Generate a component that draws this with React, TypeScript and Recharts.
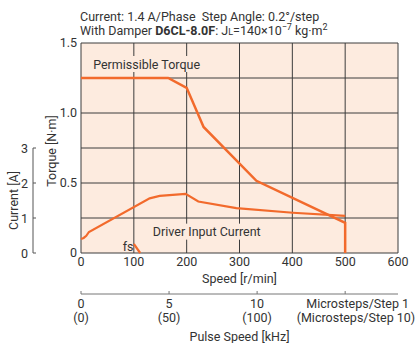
import React from 'react';
import { LineChart, Line, XAxis, YAxis, CartesianGrid, ReferenceDot } from 'recharts';

const FONT = "Roboto, 'Liberation Sans', sans-serif";
const FS = 12.5;
const TEXT = '#333333';
const ORANGE = '#f26a2c';
const BG = '#fdebdf';
const GRID = '#3c3c3c';

const W = 419;
const H = 343;
const M_TOP = 43;
const SPEED_AXIS_H = 41;
const PULSE_AXIS_H = 49;
const PLOT_H = H - M_TOP - SPEED_AXIS_H - PULSE_AXIS_H;

// axis ids (alphabetical order decides stacking: "a" sits next to the plot)
const X_SPEED = 'a_speed';
const X_PULSE = 'b_pulse';
const Y_TORQUE = 'a_torque';
const Y_CURRENT = 'b_current';

// Speed axis [r/min]
const speedTicks = [0, 100, 200, 300, 400, 500, 600];
const speedGrid = [0, 100, 200, 300, 400, 500, 600];
// Torque axis [N·m]
const torqueTicks = [0, 0.5, 1.0, 1.5];
const torqueGrid = [0, 0.25, 0.5, 0.75, 1.0, 1.25, 1.5];
// Current axis [A]
const currentTicks = [0, 1, 2, 3];
const CURRENT_MAX = 6;
// Pulse speed axis [kHz]
const pulseTicks = [0, 5, 10, 15];
const pulseTopLabels = ['0', '5', '10', 'Microsteps/Step 1'];
const pulseBottomLabels = ['(0)', '(50)', '(100)', '(Microsteps/Step 10)'];

// Permissible torque curve
const torqueSpeed = [0, 165, 200, 232, 332, 500, 500];
const torqueValue = [1.25, 1.25, 1.18, 0.9, 0.516, 0.216, 0];

// Driver input current curve
const currentSpeed = [0, 5, 10, 15, 130, 149, 198, 222, 294, 401, 500];
const currentValue = [0.4, 0.43, 0.49, 0.6, 1.56, 1.63, 1.69, 1.47, 1.28, 1.15, 1.06];

// fs (self-start frequency) mark
const fsSpeed = [100, 112];
const fsCurrent = [0.26, 0];

const torqueData = torqueSpeed.map((s, i) => ({ speed: s, torque: torqueValue[i] }));
const currentData = currentSpeed.map((s, i) => ({ speed: s, current: currentValue[i] }));
const fsData = fsSpeed.map((s, i) => ({ speed: s, current: fsCurrent[i] }));
const pulseData = pulseTicks.map((k) => ({ khz: k }));

const txt = { fontFamily: FONT, fontSize: FS, fill: TEXT };

const CurrentTick = (props: any) => {
  const { x, y, payload } = props;
  const lx = x - 8;
  const step = PLOT_H / CURRENT_MAX;
  return (
    <g>
      {payload.value > 0 && (
        <line x1={lx} y1={y} x2={lx} y2={y + step} stroke="#555" strokeWidth={1} />
      )}
      <line x1={lx} y1={y} x2={lx + 3} y2={y} stroke="#555" strokeWidth={1} />
      <text x={lx - 5} y={y} textAnchor="end" dominantBaseline="central" {...txt}>
        {payload.value}
      </text>
    </g>
  );
};

const PulseTick = (props: any) => {
  const { x, y, index } = props;
  const last = index === pulseTicks.length - 1;
  return (
    <g>
      <line x1={x} y1={y - 3} x2={x} y2={y} stroke="#777" strokeWidth={1} />
      <text x={last ? x + 12.5 : x} y={y + 9} textAnchor="middle" dominantBaseline="central" {...txt}>
        {pulseTopLabels[index]}
      </text>
      <text
        x={last ? x + 70 : x}
        y={y + 23}
        textAnchor={last ? 'end' : 'middle'}
        dominantBaseline="central"
        {...txt}
      >
        {pulseBottomLabels[index]}
      </text>
    </g>
  );
};

const makeLabel = (text: string, w: number) => (props: any) => {
  const { cx, cy } = props;
  return (
    <g>
      <rect x={cx - 2} y={cy - 8} width={w} height={16} fill={BG} />
      <text x={cx} y={cy} dominantBaseline="central" {...txt}>
        {text}
      </text>
    </g>
  );
};

const FsLabel = (props: any) => {
  const { cx, cy } = props;
  return (
    <text x={cx} y={cy} dominantBaseline="central" {...txt}>
      fs
    </text>
  );
};

export default function App() {
  return (
    <div style={{ position: 'absolute', left: 0, top: 0, width: W, height: H, background: '#fff' }}>
      <svg width={W} height={40} style={{ position: 'absolute', left: 0, top: 0 }}>
        <text x={80} y={20.5} {...txt}>
          Current: 1.4 A/Phase{'\u00a0\u00a0'}Step Angle: 0.2°/step
        </text>
        <text x={80} y={35} {...txt}>
          With Damper <tspan fontWeight="bold">D6CL-8.0F</tspan>: J<tspan fontSize={9}>L</tspan>=140×10
          <tspan fontSize={9} dy={-5}>−7</tspan>
          <tspan dy={5}> kg·m</tspan>
          <tspan fontSize={9} dy={-5}>2</tspan>
        </text>
      </svg>
      <LineChart
        width={W}
        height={H}
        margin={{ top: M_TOP, right: 21, bottom: 0, left: 0 }}
        style={{ position: 'absolute', left: 0, top: 0 }}
      >
        <CartesianGrid
          xAxisId={X_SPEED}
          yAxisId={Y_TORQUE}
          horizontalValues={torqueGrid}
          verticalValues={speedGrid}
          stroke={GRID}
          strokeWidth={1}
          fill={BG}
          fillOpacity={1}
        />
        <XAxis
          xAxisId={X_SPEED}
          type="number"
          dataKey="speed"
          domain={[0, 600]}
          ticks={speedTicks}
          height={SPEED_AXIS_H}
          axisLine={false}
          tickLine={false}
          tickSize={0}
          tickMargin={4}
          tick={{ ...txt }}
          label={(p: any) => {
            const vb = p.viewBox;
            return (
              <text x={vb.x + vb.width / 2} y={vb.y + 25} textAnchor="middle" dominantBaseline="central" {...txt}>
                Speed [r/min]
              </text>
            );
          }}
        />
        <XAxis
          xAxisId={X_PULSE}
          type="number"
          dataKey="khz"
          domain={[0, 18]}
          allowDataOverflow
          ticks={pulseTicks}
          height={PULSE_AXIS_H}
          axisLine={{ stroke: '#777', strokeWidth: 1 }}
          tickLine={false}
          tickSize={0}
          tickMargin={0}
          tick={<PulseTick />}
          interval={0}
          label={(p: any) => {
            const vb = p.viewBox;
            return (
              <text x={vb.x + vb.width / 2} y={vb.y + 42} textAnchor="middle" dominantBaseline="central" {...txt}>
                Pulse Speed [kHz]
              </text>
            );
          }}
        />
        <YAxis
          yAxisId={Y_TORQUE}
          type="number"
          domain={[0, 1.5]}
          ticks={torqueTicks}
          width={40}
          axisLine={false}
          tickLine={false}
          tickSize={0}
          tickMargin={4}
          tickFormatter={(v: number) => (v === 0 ? '0' : v.toFixed(1))}
          tick={{ ...txt }}
          label={(p: any) => {
            const vb = p.viewBox;
            const cx = vb.x + 10;
            const cy = vb.y + 108;
            return (
              <text x={cx} y={cy} transform={`rotate(-90 ${cx} ${cy})`} textAnchor="middle" dominantBaseline="central" {...txt}>
                Torque [N·m]
              </text>
            );
          }}
        />
        <YAxis
          yAxisId={Y_CURRENT}
          type="number"
          domain={[0, CURRENT_MAX]}
          ticks={currentTicks}
          width={41}
          axisLine={false}
          tickLine={false}
          tickSize={0}
          tickMargin={0}
          tick={<CurrentTick />}
          interval={0}
          label={(p: any) => {
            const vb = p.viewBox;
            const cx = vb.x + 13;
            const cy = vb.y + vb.height * 0.75;
            return (
              <text x={cx} y={cy} transform={`rotate(-90 ${cx} ${cy})`} textAnchor="middle" dominantBaseline="central" {...txt}>
                Current [A]
              </text>
            );
          }}
        />
        <ReferenceDot
          xAxisId={X_SPEED}
          yAxisId={Y_TORQUE}
          x={23}
          y={1.35}
          r={0}
          shape={makeLabel('Permissible Torque', 104)}
        />
        <ReferenceDot
          xAxisId={X_SPEED}
          yAxisId={Y_CURRENT}
          x={136}
          y={0.61}
          r={0}
          shape={makeLabel('Driver Input Current', 108)}
        />
        <ReferenceDot xAxisId={X_SPEED} yAxisId={Y_CURRENT} x={79} y={0.2} r={0} shape={<FsLabel />} />
        <Line
          xAxisId={X_PULSE}
          yAxisId={Y_TORQUE}
          data={pulseData}
          dataKey="none"
          stroke="none"
          dot={false}
          legendType="none"
          isAnimationActive={false}
        />
        <Line
          xAxisId={X_SPEED}
          yAxisId={Y_TORQUE}
          data={torqueData}
          dataKey="torque"
          type="linear"
          stroke={ORANGE}
          strokeWidth={2.5}
          dot={false}
          isAnimationActive={false}
        />
        <Line
          xAxisId={X_SPEED}
          yAxisId={Y_CURRENT}
          data={currentData}
          dataKey="current"
          type="linear"
          stroke={ORANGE}
          strokeWidth={2.2}
          dot={false}
          isAnimationActive={false}
        />
        <Line
          xAxisId={X_SPEED}
          yAxisId={Y_CURRENT}
          data={fsData}
          dataKey="current"
          type="linear"
          stroke={ORANGE}
          strokeWidth={2.2}
          dot={false}
          isAnimationActive={false}
        />
      </LineChart>
    </div>
  );
}
